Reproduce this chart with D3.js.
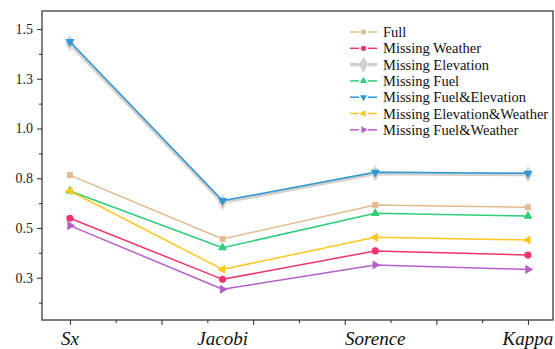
<!DOCTYPE html>
<html>
<head>
<meta charset="utf-8">
<script src="https://cdn.jsdelivr.net/npm/d3@7/dist/d3.min.js"></script>
</head>
<body style="margin:0">
<svg id="chart" width="555" height="349"></svg>
<script>
// Similarity metrics compared across input-feature ablations
const categories = ["Sx", "Jacobi", "Sorence", "Kappa"];

const seriesNames = [
  "Full",
  "Missing Weather",
  "Missing Elevation",
  "Missing Fuel",
  "Missing Fuel&Elevation",
  "Missing Elevation&Weather",
  "Missing Fuel&Weather"
];

const full              = [0.766, 0.445, 0.616, 0.604];
const missingWeather    = [0.549, 0.242, 0.385, 0.364];
const missingElevation  = [1.428, 0.630, 0.775, 0.770];
const missingFuel       = [0.686, 0.401, 0.574, 0.560];
const missingFuelElev   = [1.436, 0.637, 0.780, 0.775];
const missingElevWeath  = [0.686, 0.292, 0.453, 0.440];
const missingFuelWeath  = [0.512, 0.192, 0.314, 0.292];

const yTickValues = [0.25, 0.5, 0.75, 1.0, 1.25, 1.5];
const yTickLabels = ["0.3", "0.5", "0.8", "1.0", "1.3", "1.5"];

const seriesValues = [full, missingWeather, missingElevation, missingFuel,
                      missingFuelElev, missingElevWeath, missingFuelWeath];

const styles = [
  { color: "#e2bb8e", symbol: "square",   width: 1.5, size: 36 },
  { color: "#f2336b", symbol: "circle",   width: 1.5, size: 40 },
  { color: "#d3cfcb", symbol: "diamond",  width: 4,   size: 75 },
  { color: "#2ecf78", symbol: "tri-up",   width: 1.5, size: 36 },
  { color: "#2b9ad9", symbol: "tri-down", width: 1.5, size: 36 },
  { color: "#ffc71f", symbol: "tri-left", width: 1.5, size: 36 },
  { color: "#b65fcb", symbol: "tri-right",width: 1.5, size: 36 }
];

const SERIF = "Liberation Serif";

// draw order: the thick grey line sits underneath the others
const drawOrder = [2, 0, 1, 3, 5, 6, 4];

const margin = { left: 42, right: 2, top: 11, bottom: 29 };
const W = 555, H = 349;
const svg = d3.select("#chart").style("font-family", SERIF);

const x = d3.scaleLinear().domain([-0.183, 3.164]).range([margin.left, W - margin.right]);
const y = d3.scaleLinear().domain([0.0377, 1.5905]).range([H - margin.bottom, margin.top]);

const axisColor = "#3a3a3a";

// plot frame
svg.append("rect")
  .attr("x", margin.left).attr("y", margin.top)
  .attr("width", W - margin.right - margin.left)
  .attr("height", H - margin.bottom - margin.top)
  .attr("fill", "none").attr("stroke", axisColor).attr("stroke-width", 1.3);

// y axis: major ticks with labels, minor ticks in between
const yMinor = d3.range(0.125, 1.5, 0.25);
const yAxisMajor = d3.axisLeft(y).tickValues(yTickValues).tickSize(5).tickPadding(4)
  .tickFormat((d, i) => yTickLabels[i]);
const yAxisMinor = d3.axisLeft(y).tickValues(yMinor).tickSize(3).tickFormat("");

const gy = svg.append("g").attr("transform", `translate(${margin.left},0)`).call(yAxisMajor);
svg.append("g").attr("transform", `translate(${margin.left},0)`).call(yAxisMinor)
  .call(g => g.select(".domain").remove());
gy.select(".domain").remove();
gy.attr("font-family", SERIF).attr("font-size", 14);
svg.selectAll("g .tick line").attr("stroke", axisColor).attr("stroke-width", 1.1);
gy.selectAll("text")
  .style("font-family", SERIF)
  .attr("fill", "#222");

// x axis: numeric ticks along the bottom, category names at each point
const xMajor = d3.range(0, 3.01, 0.6);
const xMinor = d3.range(0.3, 3.0, 0.6);
const xAxisMajor = d3.axisBottom(x).tickValues(xMajor).tickSize(5).tickFormat("");
const xAxisMinor = d3.axisBottom(x).tickValues(xMinor).tickSize(3).tickFormat("");
const bottomY = H - margin.bottom;
svg.append("g").attr("transform", `translate(0,${bottomY})`).call(xAxisMajor)
  .call(g => g.select(".domain").remove())
  .selectAll("line").attr("stroke", axisColor).attr("stroke-width", 1.1);
svg.append("g").attr("transform", `translate(0,${bottomY})`).call(xAxisMinor)
  .call(g => g.select(".domain").remove())
  .selectAll("line").attr("stroke", axisColor).attr("stroke-width", 1.1);

categories.forEach((c, i) => {
  svg.append("text")
    .attr("x", x(i))
    .attr("y", bottomY + 25)
    .attr("text-anchor", "middle")
    .style("font-family", SERIF)
    .style("font-style", "italic")
    .attr("font-size", 19)
    .attr("fill", "#111")
    .text(c);
});

// marker shapes
function symbolPath(kind, size) {
  const map = {
    "square": d3.symbolSquare,
    "circle": d3.symbolCircle,
    "diamond": d3.symbolDiamond,
    "tri-up": d3.symbolTriangle,
    "tri-down": d3.symbolTriangle,
    "tri-left": d3.symbolTriangle,
    "tri-right": d3.symbolTriangle
  };
  return d3.symbol().type(map[kind]).size(size)();
}
function symbolRotate(kind) {
  return { "tri-down": 180, "tri-left": -90, "tri-right": 90 }[kind] || 0;
}

const line = d3.line().x((d, i) => x(i)).y(d => y(d));

const plot = svg.append("g");
drawOrder.forEach(si => {
  const st = styles[si];
  const vals = seriesValues[si];
  const g = plot.append("g");
  g.append("path")
    .attr("d", line(vals))
    .attr("fill", "none")
    .attr("stroke", st.color)
    .attr("stroke-width", st.width)
    .attr("stroke-linejoin", "round");
  g.selectAll("path.marker")
    .data(vals)
    .join("path")
    .attr("class", "marker")
    .attr("d", symbolPath(st.symbol, st.size))
    .attr("transform", (d, i) => `translate(${x(i)},${y(d)}) rotate(${symbolRotate(st.symbol)})`)
    .attr("fill", st.color)
    .attr("stroke", si === 2 ? "#ebe8e5" : "none")
    .attr("stroke-width", 1);
});

// legend
const rowH = 16.3;
seriesNames.forEach((name, i) => {
  const st = styles[i];
  const ly = 32 + i * rowH;
  svg.append("line")
    .attr("x1", 350).attr("x2", 377).attr("y1", ly).attr("y2", ly)
    .attr("stroke", st.color).attr("stroke-width", i === 2 ? 3.5 : 1.5);
  svg.append("rect").attr("x", 359).attr("y", ly - 4).attr("width", 9).attr("height", 8).attr("fill", "#fff");
  svg.append("path")
    .attr("d", symbolPath(st.symbol, i === 2 ? 70 : 22))
    .attr("transform", `translate(363.5,${ly}) rotate(${symbolRotate(st.symbol)})`)
    .attr("fill", st.color);
  svg.append("text")
    .attr("x", 383).attr("y", ly + 5)
    .style("font-family", SERIF)
    .attr("font-size", 14.5)
    .attr("fill", "#111")
    .text(name);
});
</script>
</body>
</html>
